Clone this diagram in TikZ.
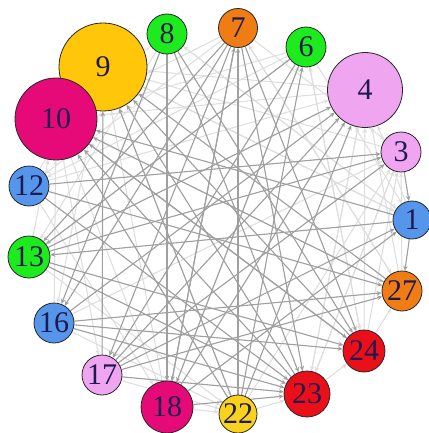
\documentclass[tikz,border=0pt]{standalone}
\usepackage{fontspec}
\setmainfont{Liberation Serif}
\usetikzlibrary{arrows.meta}
\pgfdeclarelayer{paper}
\pgfdeclarelayer{bg}
\pgfdeclarelayer{bgl}
\pgfsetlayers{paper,bgl,bg,main}
\definecolor{cgreen}{RGB}{30,235,30}
\definecolor{corange}{RGB}{240,125,20}
\definecolor{cpink}{RGB}{240,165,240}
\definecolor{cblue}{RGB}{85,150,235}
\definecolor{cred}{RGB}{235,15,25}
\definecolor{cgold}{RGB}{255,198,10}
\definecolor{cyell}{RGB}{250,210,30}
\definecolor{cmag}{RGB}{230,10,120}
\definecolor{ctext}{RGB}{30,25,80}
\definecolor{edark}{RGB}{160,160,160}
\definecolor{elight}{RGB}{222,222,222}
\tikzset{
  vx/.style={circle,draw=black!85,line width=0.8pt,inner sep=0pt,font=\fontsize{30}{30}\selectfont,text=ctext},
  ed/.style={draw=edark,fill=edark,line width=1.1pt,-{Stealth[length=5pt,width=4.5pt]}},
  el/.style={draw=elight,fill=elight,line width=1.0pt,-{Stealth[length=5pt,width=4.5pt]}},
}
\begin{document}
\begin{tikzpicture}[x=1pt,y=-1pt]
\useasboundingbox (0,0) rectangle (428,433);
\begin{pgfonlayer}{paper}
\fill[white] (0,0) rectangle (428,433);
\end{pgfonlayer}
\node[vx,fill=cblue,minimum size=38pt] (n1) at (412,220) {1};
\node[vx,fill=cpink,minimum size=40pt] (n3) at (401,152) {3};
\node[vx,fill=cpink,minimum size=75pt] (n4) at (365,90) {4};
\node[vx,fill=cgreen,minimum size=40pt] (n6) at (306,47) {6};
\node[vx,fill=corange,minimum size=39pt] (n7) at (238,28) {7};
\node[vx,fill=cgreen,minimum size=40pt] (n8) at (167,34) {8};
\node[vx,fill=cgold,minimum size=88pt] (n9) at (103,67) {9};
\node[vx,fill=cmag,minimum size=82pt] (n10) at (56,119) {10};
\node[vx,fill=cblue,minimum size=40pt] (n12) at (29,186) {12};
\node[vx,fill=cgreen,minimum size=42pt] (n13) at (29,257) {13};
\node[vx,fill=cblue,minimum size=40pt] (n16) at (54,323) {16};
\node[vx,fill=cpink,minimum size=40pt] (n17) at (102,375) {17};
\node[vx,fill=cmag,minimum size=52pt] (n18) at (167,407) {18};
\node[vx,fill=cyell,minimum size=38pt] (n22) at (238,414) {22};
\node[vx,fill=cred,minimum size=46pt] (n23) at (307,394) {23};
\node[vx,fill=cred,minimum size=42pt] (n24) at (364,351) {24};
\node[vx,fill=corange,minimum size=40pt] (n27) at (402,291) {27};
\begin{pgfonlayer}{bgl}
\foreach \a/\b in {n9/n1,n10/n27,n12/n4,n13/n6,n16/n3,n18/n6,n22/n3,n23/n4,n24/n6,n27/n7,n1/n8,n3/n9,n6/n12,n7/n12,n8/n13,n9/n16,n10/n17,n12/n18,n13/n22,n16/n22,n17/n22,n18/n22,n22/n23,n23/n24,n24/n27,n9/n22,n10/n18,n4/n23,n3/n23,n6/n24,n7/n27,n8/n1,n12/n9,n13/n10,n16/n10,n24/n4,n27/n4,n1/n4,n23/n3,n24/n3,n27/n3,n18/n9,n6/n1,n7/n3,n6/n10,n7/n10,n1/n9,n4/n9,n4/n10,n8/n10}
  \draw[el] (\a) -- (\b);
\end{pgfonlayer}
\begin{pgfonlayer}{bg}
\foreach \a/\b in {n8/n18,n17/n9,n22/n6,n8/n23,n23/n9,n7/n17,n7/n16,n7/n23,n7/n24,n7/n18,n6/n13,n6/n17,n12/n3,n13/n3,n16/n27,n16/n24,n17/n27,n17/n1,n18/n1,n18/n4,n22/n4,n22/n7,n23/n10,n24/n10,n27/n10,n1/n10,n22/n10,n24/n9,n27/n9,n12/n23,n13/n23,n13/n24,n1/n13,n1/n27,n3/n1,n8/n24,n8/n16,n7/n13,n6/n18,n17/n4,n16/n23,n17/n23,n18/n23,n13/n4,n10/n24,n12/n27,n16/n4,n18/n7,n22/n9,n17/n3}
  \draw[ed] (\a) -- (\b);
\end{pgfonlayer}
\end{tikzpicture}
\end{document}
